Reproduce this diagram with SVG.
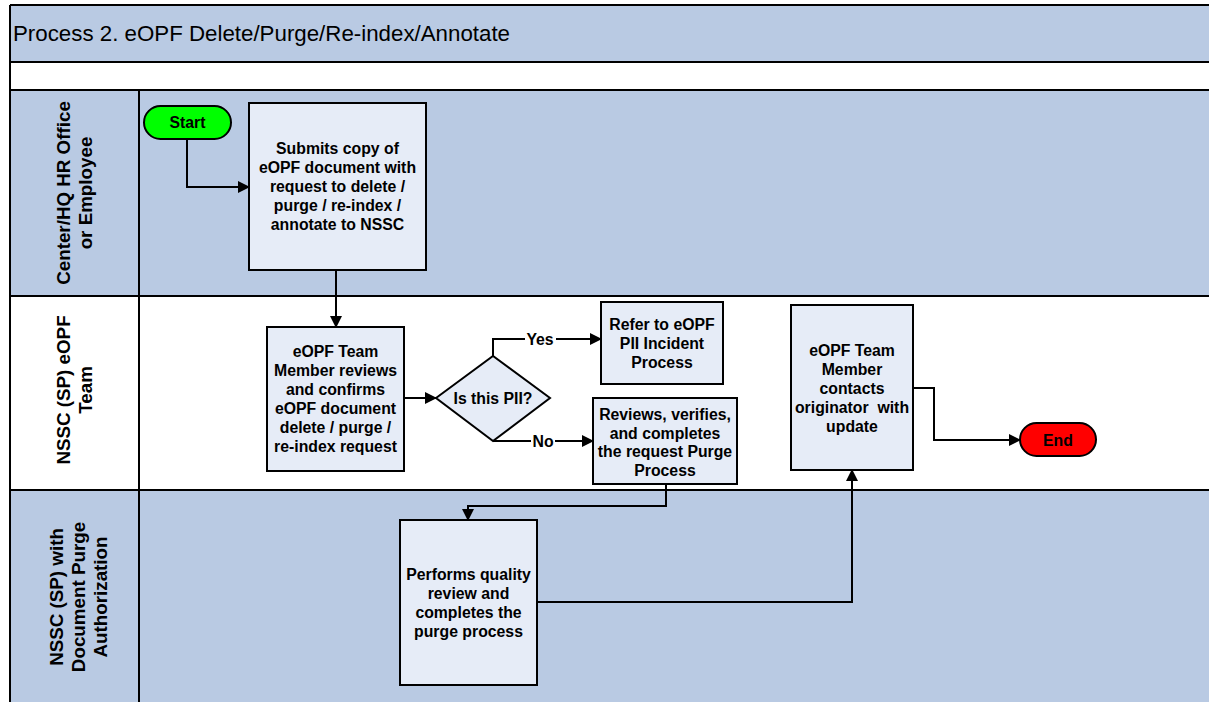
<svg xmlns="http://www.w3.org/2000/svg" width="1209" height="702" viewBox="0 0 1209 702">
  <style>
    .lane-blue { fill: #B9CAE3; }
    .lane-white { fill: #FFFFFF; }
    .rule { stroke: #000; stroke-width: 2; fill: none; }
    .box { fill: #E6ECF7; stroke: #000; stroke-width: 2; }
    .conn { stroke: #000; stroke-width: 2; fill: none; }
    .t { font-family: "Liberation Sans", Arial, sans-serif; font-weight: bold; font-size: 15.8px; fill: #000; text-anchor: middle; dominant-baseline: central; }
    .lane-label { font-family: "Liberation Sans", Arial, sans-serif; font-weight: bold; font-size: 18.8px; fill: #000; text-anchor: middle; dominant-baseline: central; }
    .title { font-family: "Liberation Sans", Arial, sans-serif; font-size: 22.3px; fill: #000; dominant-baseline: central; }
    .lbl-bg { fill: #FFFFFF; }
  </style>
  <defs>
    <marker id="arrow" markerUnits="userSpaceOnUse" markerWidth="12" markerHeight="12" refX="11" refY="6" orient="auto">
      <path d="M0,0 L12,6 L0,12 z" fill="#000"/>
    </marker>
  </defs>

  <!-- swimlane backgrounds -->
  <g id="pool">
    <rect class="lane-blue" x="10" y="5" width="1199" height="57"/>
    <rect class="lane-white" x="10" y="62" width="1199" height="28"/>
    <rect class="lane-blue" x="10" y="90" width="1199" height="206"/>
    <rect class="lane-white" x="10" y="296" width="1199" height="194"/>
    <rect class="lane-blue" x="10" y="490" width="1199" height="212"/>
    <path class="rule" d="M10,5 H1209 M10,62 H1209 M10,90 H1209 M10,296 H1209 M10,490 H1209 M10,5 V702 M139,90 V702"/>
    <text class="title" x="13" y="33">Process 2. eOPF Delete/Purge/Re-index/Annotate</text>
  </g>

  <!-- lane headers -->
  <g id="lane-hr">
    <text class="lane-label" transform="translate(63,193) rotate(-90)">Center/HQ HR Office</text>
    <text class="lane-label" transform="translate(85,193) rotate(-90)">or Employee</text>
  </g>
  <g id="lane-team">
    <text class="lane-label" transform="translate(63,390) rotate(-90)">NSSC (SP) eOPF</text>
    <text class="lane-label" transform="translate(85,390) rotate(-90)">Team</text>
  </g>
  <g id="lane-purge">
    <text class="lane-label" transform="translate(56,597) rotate(-90)">NSSC (SP) with</text>
    <text class="lane-label" transform="translate(78,597) rotate(-90)">Document Purge</text>
    <text class="lane-label" transform="translate(100,597) rotate(-90)">Authorization</text>
  </g>

  <!-- connectors -->
  <g id="connectors">
    <path class="conn" d="M187,139 V187 H249" marker-end="url(#arrow)"/>
    <path class="conn" d="M336,270 V327" marker-end="url(#arrow)"/>
    <path class="conn" d="M404,398 H436" marker-end="url(#arrow)"/>
    <path class="conn" d="M493,356 V339 H601" marker-end="url(#arrow)"/>
    <path class="conn" d="M493,441 H593" marker-end="url(#arrow)"/>
    <path class="conn" d="M666,484 V506 H468 V520" marker-end="url(#arrow)"/>
    <path class="conn" d="M537,602 H852 V470" marker-end="url(#arrow)"/>
    <path class="conn" d="M913,388 H934 V440 H1020" marker-end="url(#arrow)"/>
    <rect class="lbl-bg" x="525" y="330" width="31" height="18"/>
    <text class="t" x="540" y="339" font-size="15.4">Yes</text>
    <rect class="lbl-bg" x="531" y="432" width="24" height="18"/>
    <text class="t" x="543" y="441" font-size="15.4">No</text>
  </g>

  <!-- nodes -->
  <g id="start">
    <rect x="144" y="106" width="87" height="33" rx="16.5" fill="#00FF00" stroke="#000" stroke-width="2"/>
    <text class="t" x="187.5" y="122.5" font-size="15.4">Start</text>
  </g>

  <g id="submit-request">
    <rect class="box" x="249" y="103" width="177" height="167"/>
    <text class="t" x="337.5" y="148">Submits copy of</text>
    <text class="t" x="337.5" y="167">eOPF document with</text>
    <text class="t" x="337.5" y="186">request to delete /</text>
    <text class="t" x="337.5" y="205">purge / re-index /</text>
    <text class="t" x="337.5" y="224">annotate to NSSC</text>
  </g>

  <g id="team-review">
    <rect class="box" x="267" y="327" width="137" height="144"/>
    <text class="t" x="335.5" y="351">eOPF Team</text>
    <text class="t" x="335.5" y="370">Member reviews</text>
    <text class="t" x="335.5" y="389">and confirms</text>
    <text class="t" x="335.5" y="408">eOPF document</text>
    <text class="t" x="335.5" y="427">delete / purge /</text>
    <text class="t" x="335.5" y="446">re-index request</text>
  </g>

  <g id="pii-decision">
    <polygon class="box" points="436,398 493,356 550,398 493,441"/>
    <text class="t" x="493" y="398">Is this PII?</text>
  </g>

  <g id="pii-incident">
    <rect class="box" x="601" y="302" width="122" height="82"/>
    <text class="t" x="662" y="324">Refer to eOPF</text>
    <text class="t" x="662" y="343">PII Incident</text>
    <text class="t" x="662" y="362">Process</text>
  </g>

  <g id="purge-request">
    <rect class="box" x="593" y="398" width="144" height="86"/>
    <text class="t" x="665" y="414">Reviews, verifies,</text>
    <text class="t" x="665" y="433">and completes</text>
    <text class="t" x="665" y="451">the request Purge</text>
    <text class="t" x="665" y="470">Process</text>
  </g>

  <g id="quality-review">
    <rect class="box" x="400" y="520" width="137" height="165"/>
    <text class="t" x="468.5" y="574">Performs quality</text>
    <text class="t" x="468.5" y="593">review and</text>
    <text class="t" x="468.5" y="612">completes the</text>
    <text class="t" x="468.5" y="631">purge process</text>
  </g>

  <g id="contact-originator">
    <rect class="box" x="791" y="305" width="122" height="165"/>
    <text class="t" x="852" y="350">eOPF Team</text>
    <text class="t" x="852" y="369">Member</text>
    <text class="t" x="852" y="388">contacts</text>
    <text class="t" x="852" y="407">originator&#160; with</text>
    <text class="t" x="852" y="426">update</text>
  </g>

  <g id="end">
    <rect x="1020" y="423" width="76" height="33" rx="16.5" fill="#FF0000" stroke="#000" stroke-width="2"/>
    <text class="t" x="1058" y="440" font-size="15.4">End</text>
  </g>
</svg>
